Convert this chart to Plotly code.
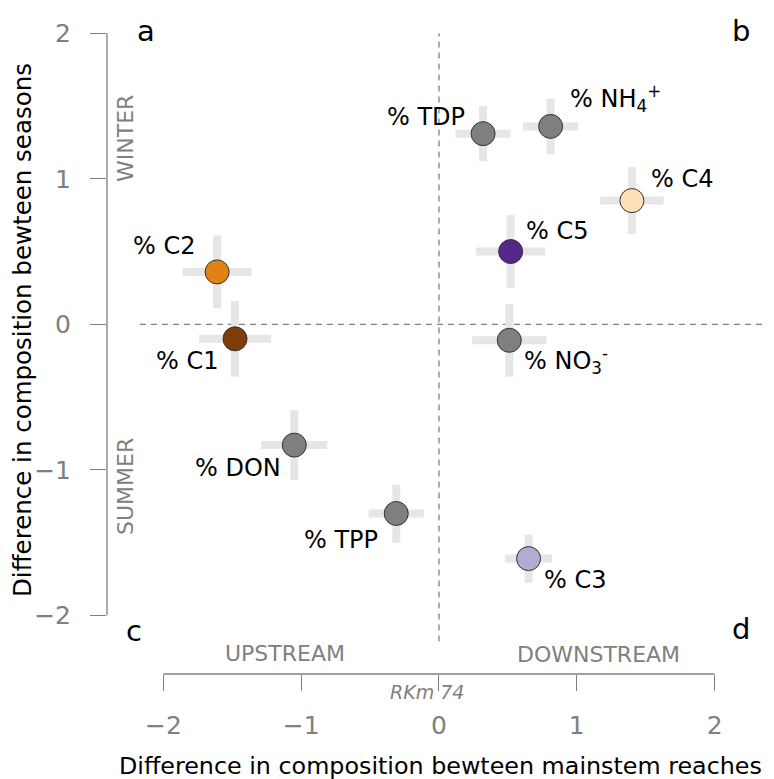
import plotly.graph_objects as go

# Composition differences: mainstem reach (x) vs season (y), with spread as crosses
labels = ["% TDP", "% NH<sub>4</sub><sup>+</sup>", "% C4", "% C5", "% C2",
          "% C1", "% NO<sub>3</sub><sup>-</sup>", "% DON", "% TPP", "% C3"]
x_diff = [0.32, 0.81, 1.40, 0.52, -1.61, -1.48, 0.51, -1.05, -0.31, 0.65]
y_diff = [1.31, 1.36, 0.85, 0.50, 0.36, -0.10, -0.11, -0.83, -1.30, -1.61]
x_spread = [0.20, 0.20, 0.23, 0.25, 0.25, 0.26, 0.27, 0.24, 0.20, 0.17]
y_spread = [0.19, 0.19, 0.23, 0.25, 0.25, 0.26, 0.25, 0.24, 0.20, 0.165]
point_colors = ["#7f7f7f", "#7f7f7f", "#FEE0B6", "#542788", "#E08214",
                "#7F3B08", "#7f7f7f", "#7f7f7f", "#7f7f7f", "#B2ABD2"]
# label placement: (anchor, x offset px, y offset px)
label_pos = [("right", -16, 17), ("left", 17, 28), ("left", 17, 22), ("left", 13, 21),
             ("right", -20, 26), ("right", -15, -22), ("left", 13, -20),
             ("right", -11, -23), ("right", -16, -27), ("left", 13, -21)]

tick_vals = [-2, -1, 0, 1, 2]

W, H = 774, 779
L, R, T, B = 107, 0, 20, 105
FONT = "DejaVu Sans"
GREY = "#808080"


def paper_x(px):
    return (px - L) / (W - L - R)


def paper_y(py):
    return (H - B - py) / (H - T - B)


fig = go.Figure()
fig.add_trace(go.Scatter(
    x=x_diff, y=y_diff, mode="markers",
    marker=dict(size=24, color=point_colors, line=dict(width=1, color="#333333")),
    error_x=dict(type="data", array=x_spread, color="#e6e6e6", thickness=8, width=0),
    error_y=dict(type="data", array=y_spread, color="#e6e6e6", thickness=8, width=0),
    hoverinfo="skip", showlegend=False,
))

annotations = []
for lab, xv, yv, (anc, dx, dy) in zip(labels, x_diff, y_diff, label_pos):
    annotations.append(dict(x=xv, y=yv, xref="x", yref="y", text=lab, showarrow=False,
                            xanchor=anc, yanchor="middle", xshift=dx, yshift=dy,
                            font=dict(family=FONT, size=24, color="black")))


def note(text, px, py, size, color="black", angle=0):
    annotations.append(dict(x=paper_x(px), y=paper_y(py), xref="paper", yref="paper",
                            text=text, showarrow=False, textangle=angle,
                            xanchor="center", yanchor="middle",
                            font=dict(family=FONT, size=size, color=color)))


note("Difference in composition bewteen seasons", 22, 330, 24.5, angle=-90)
note("Difference in composition bewteen mainstem reaches", 440, 766, 23.8)
note("a", 146, 31, 29)
note("b", 741, 31, 29)
note("c", 134, 631, 29)
note("d", 741, 629, 29)
note("WINTER", 126, 139, 22, GREY, -90)
note("SUMMER", 125, 487, 22, GREY, -90)
note("UPSTREAM", 285, 653, 22, GREY)
note("DOWNSTREAM", 598, 654, 22, GREY)
note("<i>RKm 74</i>", 427, 692, 19, GREY)

shapes = [
    # detached axis lines spanning the tick range
    dict(type="line", xref="x", yref="paper", x0=-2, x1=2, y0=0, y1=0,
         line=dict(color=GREY, width=1.3)),
    dict(type="line", xref="paper", yref="y", x0=0, x1=0, y0=-2, y1=2,
         line=dict(color=GREY, width=1.3)),
    # zero reference lines
    dict(type="line", xref="x", yref="y", x0=0, x1=0, y0=-2.18, y1=2.0, layer="below",
         line=dict(color=GREY, width=1.3, dash="6px,5px")),
    dict(type="line", xref="x", yref="y", x0=-2.17, x1=2.38, y0=0, y1=0, layer="below",
         line=dict(color=GREY, width=1.3, dash="6px,5px")),
]

axis_common = dict(showgrid=False, zeroline=False, showline=False, ticks="outside",
                   ticklen=16, tickwidth=1.3, tickcolor=GREY, tickvals=tick_vals,
                   tickfont=dict(family=FONT, size=25, color=GREY), fixedrange=True)

fig.update_layout(
    width=W, height=H,
    margin=dict(l=L, r=R, t=T, b=B, pad=0),
    paper_bgcolor="white", plot_bgcolor="white",
    xaxis=dict(range=[-2.409, 2.431], ticklabelstandoff=13, **axis_common),
    yaxis=dict(range=[-2.403, 2.091], ticklabelstandoff=14, **axis_common),
    annotations=annotations, shapes=shapes,
)

fig.write_html("out.html")
